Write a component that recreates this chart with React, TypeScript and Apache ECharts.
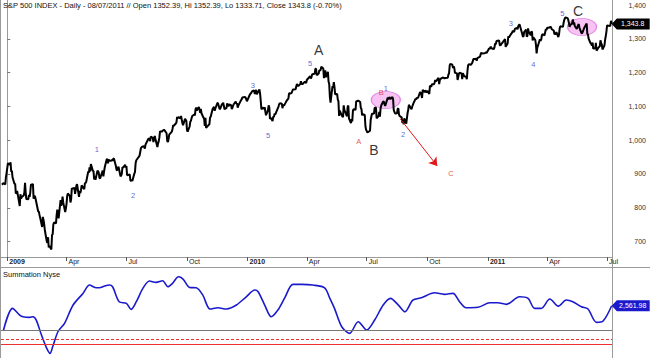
import React, { useEffect, useRef } from "react";
import * as echarts from "echarts";

const FONT = '"Liberation Sans", Arial, sans-serif';

// ---- S&P 500 daily closes, one array per month ----
const dec2008 = [868.2, 872.8, 869.4, 890.6, 903.3];
const jan2009 = [931.8, 927.5, 934.7, 906.7, 909.7, 890.4, 870.3, 871.8, 842.6, 843.7, 850.1, 805.2, 840.2, 827.5, 831.9, 836.6, 845.7, 874.1, 845.1, 825.9];
const feb2009 = [825.4, 838.5, 832.2, 845.9, 868.6, 869.9, 827.2, 833.7, 835.2, 826.8, 789.2, 788.4, 778.9, 770.1, 743.3, 773.1, 764.9, 752.8, 735.1];
const mar2009 = [700.8, 696.3, 712.9, 682.6, 687.0, 676.5, 719.6, 721.4, 750.7, 756.6, 753.9, 778.1, 794.4, 784.0, 768.5, 822.9, 806.1, 813.9, 832.9, 815.9, 787.5, 797.9];
const apr2009 = [811.1, 834.4, 842.5, 835.5, 815.6, 825.2, 856.6, 858.7, 841.5, 852.1, 865.3, 869.6, 832.4, 850.1, 843.6, 851.9, 866.2, 857.5, 855.2, 873.6, 872.8];
const may2009 = [877.5, 907.2, 903.8, 919.5, 907.4, 929.2, 909.2, 908.4, 883.9, 893.1, 882.9, 909.7, 908.1, 903.5, 888.3, 887.0, 910.3, 893.1, 906.8, 919.1];
const jun2009 = [942.9, 944.7, 931.8, 942.5, 940.1, 939.1, 942.4, 939.2, 944.9, 946.2, 923.7, 912.0, 910.7, 918.4, 921.2, 893.0, 895.1, 900.9, 920.3, 918.9, 927.2, 919.3];
const jul2009 = [923.3, 896.4, 898.7, 881.0, 879.6, 882.7, 879.1, 901.1, 905.8, 932.7, 940.7, 940.4, 951.1, 954.6, 954.1, 976.3, 979.3, 982.2, 979.6, 975.2, 986.8, 987.5];
const aug2009 = [1002.6, 1005.7, 1002.7, 997.1, 1010.5, 1007.1, 994.4, 1005.8, 1012.7, 1004.1, 979.7, 989.7, 996.5, 1007.4, 1026.1, 1025.6, 1028.0, 1028.1, 1031.0, 1028.9, 1020.6];
const sep2009 = [998.0, 994.8, 1003.2, 1016.4, 1025.4, 1033.4, 1044.1, 1042.7, 1049.3, 1052.6, 1068.8, 1065.5, 1068.3, 1064.7, 1071.7, 1060.9, 1050.8, 1044.4, 1063.0, 1060.6, 1057.1];
const oct2009 = [1029.9, 1025.2, 1040.5, 1054.7, 1057.6, 1065.5, 1071.5, 1076.2, 1073.2, 1092.0, 1096.6, 1087.7, 1097.9, 1091.1, 1081.4, 1092.9, 1079.6, 1067.0, 1063.4, 1042.6, 1066.1, 1036.2];
const nov2009 = [1042.9, 1045.4, 1046.5, 1066.6, 1069.3, 1093.1, 1093.0, 1098.5, 1087.2, 1093.5, 1109.3, 1110.3, 1109.8, 1094.9, 1091.4, 1106.2, 1105.7, 1110.6, 1091.5, 1095.6];
const dec2009 = [1108.9, 1109.2, 1099.9, 1106.0, 1103.3, 1091.9, 1096.0, 1102.4, 1106.4, 1114.1, 1107.9, 1109.2, 1096.1, 1102.5, 1114.1, 1118.0, 1120.6, 1126.5, 1127.8, 1126.2, 1126.4, 1115.1];
const jan2010 = [1133.0, 1136.5, 1137.1, 1141.7, 1145.0, 1147.0, 1136.2, 1145.7, 1148.5, 1136.0, 1150.2, 1138.0, 1116.5, 1091.8, 1096.8, 1092.2, 1097.5, 1084.5, 1073.9];
const feb2010 = [1089.2, 1103.3, 1097.3, 1063.1, 1066.2, 1056.7, 1070.5, 1068.1, 1078.5, 1075.5, 1094.9, 1099.5, 1106.8, 1109.2, 1108.0, 1094.6, 1105.2, 1102.9, 1104.5];
const mar2010 = [1115.7, 1118.3, 1118.8, 1123.0, 1138.7, 1138.5, 1140.4, 1145.6, 1150.2, 1150.0, 1150.5, 1159.5, 1166.2, 1165.8, 1159.9, 1165.8, 1174.2, 1167.7, 1165.7, 1166.6, 1173.2, 1173.3, 1169.4];
const apr2010 = [1178.1, 1187.4, 1189.4, 1182.4, 1186.4, 1194.4, 1196.5, 1197.3, 1210.7, 1211.7, 1192.1, 1197.5, 1207.2, 1205.9, 1208.7, 1217.3, 1212.1, 1183.7, 1191.4, 1206.8, 1186.7];
const may2010 = [1202.3, 1173.6, 1165.9, 1128.2, 1110.9, 1159.7, 1155.8, 1171.7, 1157.4, 1135.7, 1136.9, 1120.8, 1115.1, 1071.6, 1087.7, 1073.6, 1074.0, 1068.0, 1103.1, 1089.4];
const jun2010 = [1070.7, 1098.4, 1102.8, 1064.9, 1050.5, 1062.0, 1055.7, 1086.8, 1091.6, 1089.6, 1115.2, 1114.6, 1116.0, 1117.5, 1113.2, 1095.3, 1092.0, 1073.7, 1076.8, 1074.6, 1041.2, 1030.7];
const jul2010 = [1027.4, 1022.6, 1028.1, 1060.3, 1070.3, 1078.0, 1078.8, 1095.3, 1095.2, 1096.5, 1064.9, 1071.3, 1083.5, 1069.6, 1093.7, 1102.7, 1115.0, 1113.8, 1106.1, 1101.5, 1101.6];
const aug2010 = [1125.9, 1120.5, 1127.2, 1125.8, 1121.6, 1127.8, 1121.1, 1089.5, 1083.6, 1079.3, 1079.4, 1092.5, 1094.2, 1075.6, 1071.7, 1067.4, 1051.9, 1055.3, 1047.2, 1064.6, 1048.9, 1049.3];
const sep2010 = [1080.3, 1090.1, 1104.5, 1091.8, 1098.9, 1104.2, 1109.6, 1121.9, 1121.1, 1125.1, 1124.7, 1125.6, 1142.7, 1139.8, 1134.3, 1124.8, 1148.7, 1142.2, 1147.7, 1144.7, 1141.2];
const oct2010 = [1146.2, 1137.0, 1160.8, 1160.0, 1158.1, 1165.2, 1165.3, 1169.8, 1178.1, 1173.8, 1176.2, 1184.7, 1165.9, 1178.2, 1180.3, 1183.1, 1185.6, 1185.6, 1182.5, 1183.8, 1183.3];
const nov2010 = [1184.4, 1193.6, 1198.0, 1221.1, 1225.9, 1223.3, 1213.4, 1218.7, 1213.5, 1199.2, 1197.8, 1178.3, 1178.6, 1196.7, 1199.7, 1197.8, 1180.7, 1198.4, 1189.4, 1187.8, 1180.6];
const dec2010 = [1206.1, 1221.5, 1224.7, 1223.1, 1223.8, 1228.3, 1233.0, 1240.4, 1240.5, 1241.6, 1235.2, 1242.9, 1243.9, 1247.1, 1254.6, 1258.8, 1256.8, 1257.5, 1258.5, 1259.8, 1257.9, 1257.6];
const jan2011 = [1271.9, 1270.2, 1276.6, 1273.9, 1271.5, 1269.8, 1274.5, 1286.0, 1283.8, 1293.2, 1295.0, 1281.9, 1280.3, 1283.4, 1290.8, 1291.2, 1296.6, 1299.5, 1276.3, 1286.1];
const feb2011 = [1307.6, 1304.0, 1307.1, 1310.9, 1319.1, 1324.6, 1320.9, 1321.9, 1329.2, 1332.3, 1328.0, 1336.3, 1340.4, 1343.0, 1315.4, 1307.4, 1306.1, 1319.9, 1327.2];
const mar2011 = [1306.3, 1308.4, 1331.0, 1321.2, 1310.1, 1321.8, 1320.0, 1295.1, 1304.3, 1296.4, 1281.9, 1256.9, 1273.7, 1279.2, 1298.4, 1293.8, 1297.5, 1309.7, 1313.8, 1310.2, 1319.4, 1328.3, 1325.8];
const apr2011 = [1332.4, 1332.9, 1332.6, 1335.5, 1333.5, 1328.2, 1324.5, 1314.2, 1314.4, 1314.5, 1319.7, 1305.1, 1312.6, 1330.4, 1337.4, 1335.3, 1347.2, 1355.7, 1360.5, 1363.6];
const may2011 = [1361.2, 1356.6, 1347.3, 1335.1, 1340.2, 1346.3, 1357.2, 1342.1, 1348.7, 1337.8, 1329.5, 1329.0, 1340.7, 1343.6, 1333.3, 1317.4, 1316.3, 1320.5, 1325.7, 1331.1, 1345.2];
const jun2011 = [1314.6, 1312.9, 1300.2, 1286.2, 1284.9, 1279.6, 1289.0, 1271.0, 1271.8, 1287.9, 1265.4, 1267.6, 1271.5, 1278.4, 1295.5, 1287.1, 1283.5, 1268.5, 1280.1, 1296.7, 1307.4, 1320.6];
const jul2011 = [1339.7, 1337.9, 1339.2, 1353.2, 1343.8];

const priceMonths: [number, number, number[]][] = [
  [2008, 12, dec2008], [2009, 1, jan2009], [2009, 2, feb2009], [2009, 3, mar2009], [2009, 4, apr2009],
  [2009, 5, may2009], [2009, 6, jun2009], [2009, 7, jul2009], [2009, 8, aug2009], [2009, 9, sep2009],
  [2009, 10, oct2009], [2009, 11, nov2009], [2009, 12, dec2009], [2010, 1, jan2010], [2010, 2, feb2010],
  [2010, 3, mar2010], [2010, 4, apr2010], [2010, 5, may2010], [2010, 6, jun2010], [2010, 7, jul2010],
  [2010, 8, aug2010], [2010, 9, sep2010], [2010, 10, oct2010], [2010, 11, nov2010], [2010, 12, dec2010],
  [2011, 1, jan2011], [2011, 2, feb2011], [2011, 3, mar2011], [2011, 4, apr2011], [2011, 5, may2011],
  [2011, 6, jun2011], [2011, 7, jul2011],
];

const holidays = [
  "2008-12-25", "2009-01-01", "2009-01-19", "2009-02-16", "2009-04-10", "2009-05-25", "2009-07-03",
  "2009-09-07", "2009-11-26", "2009-12-25", "2010-01-01", "2010-01-18", "2010-02-15", "2010-04-02",
  "2010-05-31", "2010-07-05", "2010-09-06", "2010-11-25", "2010-12-24", "2011-01-17", "2011-02-21",
  "2011-04-22", "2011-05-30", "2011-07-04",
];

// ---- axis tick labels ----
const tickDates = ["2009-01-01", "2009-04-01", "2009-07-01", "2009-10-01", "2010-01-01", "2010-04-01", "2010-07-01", "2010-10-01", "2011-01-01", "2011-04-01", "2011-07-01"];
const tickLabels = ["2009", "Apr", "Jul", "Oct", "2010", "Apr", "Jul", "Oct", "2011", "Apr", "Jul"];
const priceTicks = [700, 800, 900, 1000, 1100, 1200, 1300, 1400];

// ---- Summation index (NYSE) ----
const summationDates = [
  "2008-12-26", "2009-01-09", "2009-01-20", "2009-01-25", "2009-02-04", "2009-02-09", "2009-02-14", "2009-02-22",
  "2009-03-02", "2009-03-07", "2009-03-11", "2009-03-19", "2009-03-29", "2009-04-11", "2009-04-26", "2009-05-06",
  "2009-05-14", "2009-05-21", "2009-05-29", "2009-06-05", "2009-06-10", "2009-06-20", "2009-07-01", "2009-07-08",
  "2009-07-16", "2009-07-26", "2009-08-05", "2009-08-15", "2009-08-25", "2009-09-02", "2009-09-09", "2009-09-18",
  "2009-09-25", "2009-10-05", "2009-10-15", "2009-10-25", "2009-11-05", "2009-11-17", "2009-11-30", "2009-12-15",
  "2009-12-30", "2010-01-12", "2010-01-17", "2010-01-27", "2010-02-06", "2010-02-16", "2010-02-26", "2010-03-11",
  "2010-03-24", "2010-04-10", "2010-04-28", "2010-05-06", "2010-05-13", "2010-05-24", "2010-06-05", "2010-06-18",
  "2010-07-01", "2010-07-13", "2010-07-26", "2010-08-06", "2010-08-18", "2010-08-28", "2010-09-09", "2010-09-22",
  "2010-10-12", "2010-10-27", "2010-11-09", "2010-11-19", "2010-11-29", "2010-12-17", "2011-01-04", "2011-01-16",
  "2011-01-29", "2011-02-18", "2011-03-03", "2011-03-13", "2011-03-23", "2011-04-05", "2011-04-18", "2011-04-30",
  "2011-05-10", "2011-05-23", "2011-06-02", "2011-06-15", "2011-06-25", "2011-07-08",
];
const summationValues = [
  -100, 2290, 1580, 1400, 1340, 1400, 1055, -530,
  -1930, -2460, -1760, -180, 710, 2640, 3870, 4750,
  4500, 4460, 4640, 4750, 4570, 2990, 2820, 2180,
  2990, 4400, 5170, 5030, 5200, 4570, 4930, 5620,
  5380, 4500, 4460, 3690, 2220, 2350, 2220, 2640,
  3510, 4220, 4040, 2640, 1400, 2110, 3340, 4820,
  4820, 4750, 4460, 3340, 2290, 350, -350, 880,
  0, 1055, 2640, 3340, 2640, 1930, 3165, 3410,
  3935, 3770, 3870, 2990, 2350, 2400, 2880, 2880,
  2710, 3510, 3340, 2290, 2290, 3270, 2530, 3165,
  2990, 2460, 2220, 810, 950, 2561.98,
];
const summationZero = 0;
const summationDashed = -1000;
const summationSolid = -1500;

// ---- Elliott wave annotations: [date, price, text, kind] ----
const waveLabels: [string, number, string, string][] = [
  ["2009-05-17", 971, "1", "wave"],
  ["2009-07-11", 835, "2", "wave"],
  ["2010-01-09", 1163, "3", "wave"],
  ["2010-02-01", 1015, "5", "wave"],
  ["2010-04-06", 1228, "5", "wave"],
  ["2010-04-19", 1267, "A", "major"],
  ["2010-06-19", 995, "A", "alt"],
  ["2010-07-12", 971, "B", "major"],
  ["2010-07-23", 1140, "B", "alt"],
  ["2010-07-30", 1154, "1", "wave"],
  ["2010-08-25", 1018, "2", "wave"],
  ["2010-11-06", 900, "C", "alt"],
  ["2011-02-05", 1344, "3", "wave"],
  ["2011-03-11", 1225, "4", "wave"],
  ["2011-04-24", 1376, "5", "wave"],
  ["2011-05-18", 1382, "C", "major"],
];
const highlightSpots: [string, number][] = [["2010-07-30", 1119], ["2011-05-24", 1335]];
const projectionArrow: [string, number][] = [["2010-08-21", 1063], ["2010-10-16", 924]];

const headerText = "S&P 500 INDEX - Daily - 08/07/2011 // Open 1352.39, Hi 1352.39, Lo 1333.71, Close 1343.8 (-0.70%)";

// ---- helpers ----
const BASE = Date.UTC(2009, 0, 1);
const dayOf = (y: number, m: number, d: number) => (Date.UTC(y, m - 1, d) - BASE) / 86400000;
const dayStr = (s: string) => {
  const [y, m, d] = s.split("-").map(Number);
  return dayOf(y, m, d);
};
const pad = (n: number) => (n < 10 ? "0" + n : "" + n);
function tradingDays(y: number, m: number): number[] {
  const out: number[] = [];
  const n = new Date(Date.UTC(y, m, 0)).getUTCDate();
  for (let d = 1; d <= n; d++) {
    const wd = new Date(Date.UTC(y, m - 1, d)).getUTCDay();
    if (wd === 0 || wd === 6) continue;
    if (holidays.includes(`${y}-${pad(m)}-${pad(d)}`)) continue;
    out.push(d);
  }
  return out;
}

function buildPrice(): [number, number][] {
  const out: [number, number][] = [];
  priceMonths.forEach(([y, m, vals], idx) => {
    const days = tradingDays(y, m);
    const use = idx === 0 ? days.slice(days.length - vals.length) : days.slice(0, vals.length);
    vals.forEach((v, i) => out.push([dayOf(y, m, use[i] ?? use[use.length - 1]), v]));
  });
  return out;
}

const fmt = (v: number, digits: number) =>
  v.toLocaleString("en-US", { minimumFractionDigits: digits, maximumFractionDigits: digits });

export default function App() {
  const ref = useRef<HTMLDivElement>(null);
  useEffect(() => {
    if (!ref.current) return;
    document.body.style.margin = "0";
    const chart = echarts.init(ref.current, undefined, { renderer: "svg" });
    const price = buildPrice();
    const last = price[price.length - 1];
    const sum: [number, number][] = summationDates
      .slice(0, summationValues.length)
      .map((d, i) => [dayStr(d), summationValues[i]]);
    const lastSum = sum[sum.length - 1];
    const tickDays = tickDates.map(dayStr);
    const labelFor = (v: number) => {
      const i = tickDays.findIndex((t) => Math.abs(t - v) < 0.01);
      if (i < 0) return "";
      const t = tickLabels[i];
      return /^\d{4}$/.test(t) ? `{y|${t}}` : t;
    };
    const waveColor: Record<string, string> = { wave: "#3a3acc", alt: "#e02a2a", major: "#000000" };
    const waveSize: Record<string, number> = { wave: 7.5, alt: 7.5, major: 14 };

    chart.setOption({
      animation: false,
      backgroundColor: "#ffffff",
      textStyle: { fontFamily: FONT },
      title: [
        { text: headerText, left: 3, top: 1, padding: 0, textStyle: { fontSize: 7.5, fontWeight: "normal", color: "#111", fontFamily: FONT } },
        { text: "Summation Nyse", left: 3, top: 270, padding: 0, textStyle: { fontSize: 7.5, fontWeight: "normal", color: "#111", fontFamily: FONT } },
      ],
      grid: [
        { left: 1, top: 0, width: 611, height: 257 },
        { left: 1, top: 268, width: 611, height: 90 },
      ],
      xAxis: [
        {
          type: "value", gridIndex: 0, min: -9.5, max: 918.5,
          axisLine: { show: true, lineStyle: { color: "#9a9a9a", width: 1 } },
          axisTick: { show: true, customValues: tickDays, length: 4, lineStyle: { color: "#555" } },
          axisLabel: {
            customValues: tickDays, formatter: (v: number) => labelFor(v), align: "left", margin: 1,
            padding: [0, 0, 0, 2], fontSize: 7, color: "#222", fontFamily: FONT,
            rich: { y: { fontSize: 7, fontWeight: "bold", color: "#222", fontFamily: FONT } },
          },
          splitLine: { show: false },
        },
        { type: "value", gridIndex: 1, min: -9.5, max: 918.5, show: false },
      ],
      yAxis: [
        {
          type: "value", gridIndex: 0, position: "right", min: 654.4, max: 1414.8,
          axisLine: { show: true, lineStyle: { color: "#9a9a9a" } },
          axisTick: { show: true, customValues: priceTicks, length: 3, lineStyle: { color: "#777" } },
          axisLabel: {
            customValues: priceTicks, formatter: (v: number) => fmt(v, 0), align: "right", margin: 34,
            fontSize: 7, color: "#333", fontFamily: FONT,
          },
          splitLine: { show: false },
        },
        { type: "value", gridIndex: 1, min: -2950, max: 6550, show: false },
      ],
      graphic: [
        { type: "line", shape: { x1: 0.5, y1: 0, x2: 0.5, y2: 358 }, style: { stroke: "#9a9a9a", lineWidth: 1 } },
        { type: "line", shape: { x1: 612.5, y1: 0, x2: 612.5, y2: 358 }, style: { stroke: "#9a9a9a", lineWidth: 1 } },
        { type: "line", shape: { x1: 0, y1: 267.5, x2: 650, y2: 267.5 }, style: { stroke: "#9a9a9a", lineWidth: 1 } },
      ],
      series: [
        {
          type: "scatter", xAxisIndex: 0, yAxisIndex: 0, z: 1, silent: true,
          symbol: "circle", symbolSize: [29, 17],
          itemStyle: { color: "#f4b4f0", borderColor: "#e070e0", borderWidth: 1 },
          data: highlightSpots.map(([d, p]) => [dayStr(d), p]),
        },
        {
          type: "line", xAxisIndex: 0, yAxisIndex: 0, z: 3, showSymbol: false, silent: true,
          data: price, lineStyle: { color: "#000", width: 2 },
          markLine: {
            silent: true, symbol: ["none", "arrow"], symbolSize: 8, label: { show: false },
            lineStyle: { color: "#e01818", width: 1, type: "solid" },
            data: [[{ coord: [dayStr(projectionArrow[0][0]), projectionArrow[0][1]] }, { coord: [dayStr(projectionArrow[1][0]), projectionArrow[1][1]] }]],
          },
          markPoint: {
            silent: true,
            data: [{
              coord: last, symbol: "path://M0,6L6,0L44,0L44,12L6,12Z", symbolSize: [38, 11], symbolOffset: [19, 0],
              itemStyle: { color: "#000" },
              label: { show: true, position: "inside", offset: [2, 0], formatter: fmt(last[1], 1), color: "#fff", fontSize: 7, fontFamily: FONT },
            }],
          },
        },
        {
          type: "scatter", xAxisIndex: 0, yAxisIndex: 0, z: 4, silent: true, symbolSize: 1,
          itemStyle: { color: "rgba(0,0,0,0)" },
          data: waveLabels.map(([d, p, t, k]) => ({
            value: [dayStr(d), p],
            label: { show: true, position: "inside", formatter: t, color: waveColor[k], fontSize: waveSize[k], fontFamily: FONT },
          })),
        },
        {
          type: "line", xAxisIndex: 1, yAxisIndex: 1, showSymbol: false, silent: true, smooth: 0.3,
          data: sum, lineStyle: { color: "#1a1acc", width: 1.6 },
          markLine: {
            silent: true, symbol: ["none", "none"], label: { show: false },
            data: [
              { yAxis: summationZero, lineStyle: { color: "#777", width: 1, type: "solid" } },
              { yAxis: summationDashed, lineStyle: { color: "#ee3030", width: 1, type: [3, 2] } },
              { yAxis: summationSolid, lineStyle: { color: "#ee3030", width: 1, type: "solid" } },
            ],
          },
          markPoint: {
            silent: true,
            data: [{
              coord: lastSum, symbol: "path://M0,6L6,0L44,0L44,12L6,12Z", symbolSize: [38, 11], symbolOffset: [19, 0],
              itemStyle: { color: "#1a1acc" },
              label: { show: true, position: "inside", offset: [2, 0], formatter: fmt(lastSum[1], 2), color: "#fff", fontSize: 7, fontFamily: FONT },
            }],
          },
        },
      ],
    });
    return () => chart.dispose();
  }, []);
  return <div ref={ref} style={{ width: 650, height: 358, position: "fixed", left: 0, top: 0 }} />;
}
